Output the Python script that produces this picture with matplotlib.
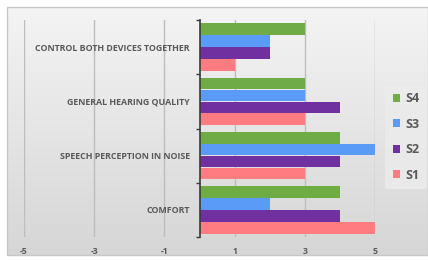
import numpy as np
import matplotlib
matplotlib.use("Agg")
import matplotlib.pyplot as plt
from matplotlib.patches import Rectangle

categories = ["COMFORT", "SPEECH PERCEPTION IN NOISE", "GENERAL HEARING QUALITY",
              "CONTROL BOTH DEVICES TOGETHER"]
series = ["S1", "S2", "S3", "S4"]
s1 = [5, 3, 3, 1]
s2 = [4, 4, 4, 2]
s3 = [2, 5, 3, 2]
s4 = [4, 4, 3, 3]
xticks = [-5, -3, -1, 1, 3, 5]

colors = {"S1": "#ff7c80", "S2": "#7030a0", "S3": "#5b9bf8", "S4": "#6fac45"}
values = {"S1": s1, "S2": s2, "S3": s3, "S4": s4}

plt.rcParams["font.family"] = ["Open Sans", "DejaVu Sans"]
plt.rcParams["axes.unicode_minus"] = False
text_col = "#595959"

fig = plt.figure(figsize=(4.28, 2.6), dpi=100)
fig.patch.set_facecolor("white")

# gradient background panel
bg = fig.add_axes([0, 0, 1, 1], zorder=-10)
grad = np.linspace(0, 1, 256).reshape(-1, 1)
bg.imshow(grad, aspect="auto", cmap=matplotlib.colors.LinearSegmentedColormap.from_list(
    "g", ["#f4f4f4", "#d6d6d6"]), extent=[7, 428, 255, 7])
bg.add_patch(Rectangle((7, 7), 421, 248, fill=False, edgecolor="#c8c8c8", lw=1))
bg.set_xlim(0, 428)
bg.set_ylim(260, 0)
bg.axis("off")

ax = fig.add_axes([24 / 428, 1 - 237 / 260, (375 - 24) / 428, (237 - 20) / 260])
ax.set_facecolor("none")

y = np.arange(len(categories))
h = 0.215
for i, s in enumerate(series):
    ax.barh(y - 0.33 + i * 0.22, values[s], height=h, color=colors[s], label=s, zorder=3)

ax.set_xlim(-5, 5)
ax.set_ylim(-0.5, 3.5)
ax.set_xticks(xticks)
ax.xaxis.grid(True, color="#bdbdbd", lw=1, zorder=0)
ax.tick_params(axis="x", length=0, labelsize=6.3, colors=text_col, pad=7)
for lab in ax.get_xticklabels():
    lab.set_fontweight("bold")

for sp in ["top", "right", "bottom"]:
    ax.spines[sp].set_visible(False)
ax.spines["left"].set_position(("data", 0))
ax.spines["left"].set_color("#3a3a3a")
ax.spines["left"].set_linewidth(1.2)
ax.spines["left"].set_zorder(4)

ax.set_yticks(y)
ax.set_yticklabels(categories)
ax.tick_params(axis="y", length=0, labelsize=6.4, colors=text_col, pad=7)
for lab in ax.get_yticklabels():
    lab.set_fontweight("bold")
ax.set_yticks(np.arange(-0.5, 4, 1), minor=True)
ax.tick_params(axis="y", which="minor", length=3, color="#3a3a3a", width=1)

handles, labels = ax.get_legend_handles_labels()
leg = fig.legend(handles[::-1], labels[::-1], loc="center", bbox_to_anchor=(406 / 428, 1 - 137 / 260),
                 frameon=True, fontsize=9, handlelength=0.6, handleheight=0.6,
                 handletextpad=0.4, labelspacing=1.0, borderpad=0.6, labelcolor=text_col)
leg.get_frame().set_facecolor("#ececec")
leg.get_frame().set_edgecolor("none")
leg.get_frame().set_alpha(0.8)
for t in leg.get_texts():
    t.set_fontweight("bold")

fig.savefig("out.png", dpi=100)
